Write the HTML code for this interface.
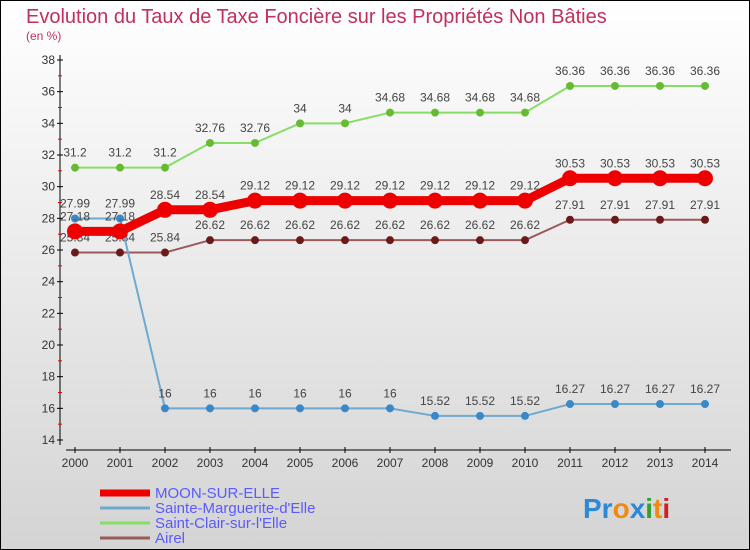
<!DOCTYPE html>
<html><head><meta charset="utf-8"><style>
body{margin:0;width:750px;height:550px;overflow:hidden}
svg{display:block;font-family:"Liberation Sans",sans-serif}
</style></head><body>
<svg id="c" width="750" height="550">
<defs><linearGradient id="bg" x1="0" y1="0" x2="0" y2="1"><stop offset="0" stop-color="#ffffff"/><stop offset="1" stop-color="#d4d4d4"/></linearGradient></defs>
<rect x="0.5" y="0.5" width="749" height="549" fill="url(#bg)" stroke="#000"/>
<text x="26" y="23" font-size="20" fill="#c0305a">Evolution du Taux de Taxe Foncière sur les Propriétés Non Bâties</text>
<text x="26" y="40" font-size="12" fill="#c0305a">(en %)</text>
<g id="axes"></g><g id="series"></g>
<g>
<line x1="100" y1="493" x2="150" y2="493" stroke="#ee0000" stroke-width="7"/>
<text x="155" y="498" font-size="15" fill="#5a5aff">MOON-SUR-ELLE</text>
<line x1="100" y1="508" x2="150" y2="508" stroke="#6fa8d0" stroke-width="3"/>
<text x="155" y="513" font-size="15" fill="#5a5aff">Sainte-Marguerite-d'Elle</text>
<line x1="100" y1="523" x2="150" y2="523" stroke="#88dd66" stroke-width="3"/>
<text x="155" y="528" font-size="15" fill="#5a5aff">Saint-Clair-sur-l'Elle</text>
<line x1="100" y1="538" x2="150" y2="538" stroke="#9a5a5a" stroke-width="3"/>
<text x="155" y="543" font-size="15" fill="#5a5aff">Airel</text>
</g>
<text x="583" y="518" font-size="28" font-weight="bold"><tspan fill="#2a8ad8">Pr</tspan><tspan fill="#f08a10">o</tspan><tspan fill="#2a8ad8">x</tspan><tspan fill="#30a030">i</tspan><tspan fill="#f08a10">t</tspan><tspan fill="#d02020">i</tspan></text>
</svg>
<script>
const years=[2000,2001,2002,2003,2004,2005,2006,2007,2008,2009,2010,2011,2012,2013,2014];
const moon=[27.18,27.18,28.54,28.54,29.12,29.12,29.12,29.12,29.12,29.12,29.12,30.53,30.53,30.53,30.53];
const marg=[27.99,27.99,16,16,16,16,16,16,15.52,15.52,15.52,16.27,16.27,16.27,16.27];
const clair=[31.2,31.2,31.2,32.76,32.76,34,34,34.68,34.68,34.68,34.68,36.36,36.36,36.36,36.36];
const airel=[25.84,25.84,25.84,26.62,26.62,26.62,26.62,26.62,26.62,26.62,26.62,27.91,27.91,27.91,27.91];
const yTicks=[14,16,18,20,22,24,26,28,30,32,34,36,38];
const NS="http://www.w3.org/2000/svg";
const X=i=>75+i*(630/14), Y=v=>440-(v-14)*(380/24);
function mk(p,t,a){const e=document.createElementNS(NS,t);for(const k in a)e.setAttribute(k,a[k]);p.appendChild(e);return e;}
const ax=document.getElementById('axes');
let l=mk(ax,'line',{x1:60,y1:55,x2:60,y2:445,stroke:'#000'});


l=mk(ax,'line',{x1:66,y1:450,x2:731,y2:450,stroke:'#000'});


yTicks.forEach(v=>{mk(ax,'line',{x1:57,y1:Y(v),x2:63,y2:Y(v),stroke:'#000'});
 if(v<38)mk(ax,'line',{x1:58,y1:Y(v+1),x2:62,y2:Y(v+1),stroke:'#e00'});
 const t=mk(ax,'text',{x:55,y:Y(v)+4,'font-size':12,fill:'#333','text-anchor':'end'});t.textContent=v;
 
 });
years.forEach((y,i)=>{mk(ax,'line',{x1:X(i),y1:447,x2:X(i),y2:453,stroke:'#000'});
 const t=mk(ax,'text',{x:X(i),y:467,'font-size':12,fill:'#333','text-anchor':'middle'});t.textContent=y;
 
 });
const sg=document.getElementById('series');
function series(d,name,col,mcol,w,r){const g=mk(sg,'g',{});
 
 
 mk(g,'polyline',{points:d.map((v,i)=>X(i)+','+Y(v)).join(' '),fill:'none',stroke:col,'stroke-width':w,'stroke-linejoin':'round'});
 d.forEach((v,i)=>{const c=mk(g,'circle',{cx:X(i),cy:Y(v),r:r,fill:mcol});
  
  
  const t=mk(g,'text',{x:X(i),y:Y(v)-11,'font-size':12,fill:'#444','text-anchor':'middle'});t.textContent=v;});}
series(airel,'series-airel','#9a5a5a','#6a1a1a',2,4);
series(clair,'series-saint-clair','#88dd66','#66bb33',2,4);
series(marg,'series-sainte-marguerite','#6fa8d0','#3a88c8',2,4);
series(moon,'series-moon-sur-elle','#ee0000','#ee0000',9,8);
</script>
</body></html>
